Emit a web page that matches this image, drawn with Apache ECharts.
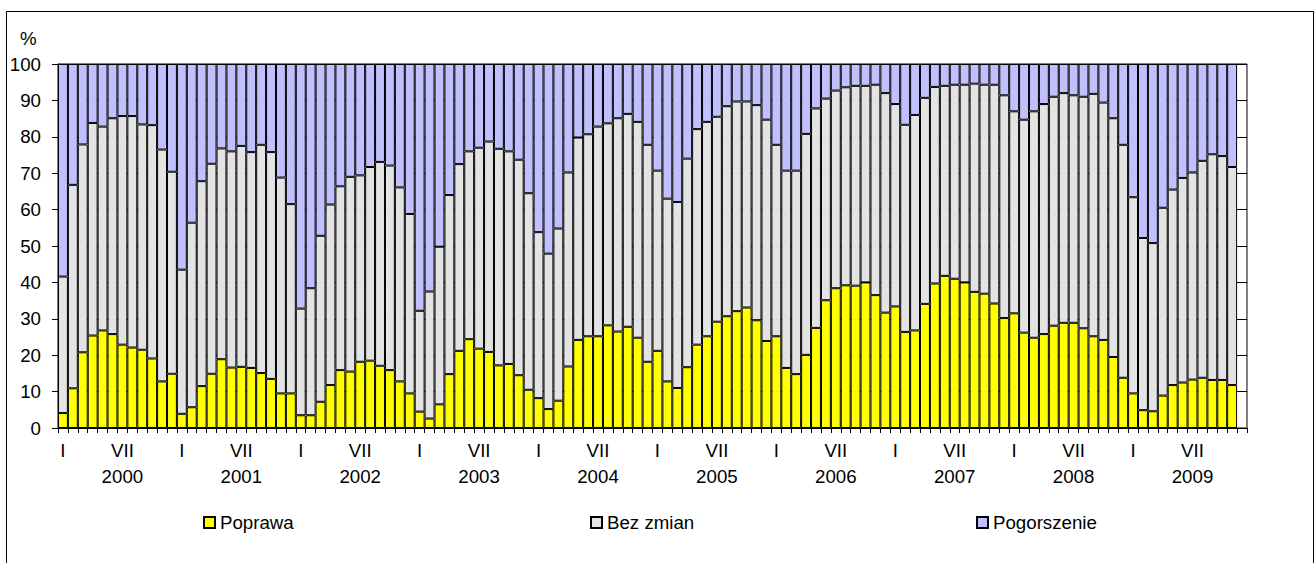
<!DOCTYPE html>
<html>
<head>
<meta charset="utf-8">
<title>Poprawa / Bez zmian / Pogorszenie</title>
<script src="https://cdn.jsdelivr.net/npm/echarts@6/dist/echarts.min.js"></script>
<style>
  html, body { margin: 0; padding: 0; background: #fff; }
  #chart { width: 1315px; height: 563px; }
</style>
</head>
<body>
<div id="chart"></div>
<script>
// lata i etykiety miesięcy (pokazujemy tylko I i VII)
var years = [2000, 2001, 2002, 2003, 2004, 2005, 2006, 2007, 2008, 2009];
var monthLabels = ['I', '', '', '', '', '', 'VII', '', '', '', '', ''];

// % (I 2000 - XI 2009)
var poprawa = [
  4.1, 10.9, 20.8, 25.4, 26.8, 25.8, 22.9, 22.1, 21.5, 19.1, 12.8, 14.9,
  3.9, 5.7, 11.5, 14.9, 18.9, 16.6, 16.8, 16.5, 15.1, 13.5, 9.5, 9.5,
  3.5, 3.5, 7.2, 11.8, 15.9, 15.5, 18.2, 18.5, 17.1, 15.9, 12.8, 9.5,
  4.5, 2.6, 6.5, 14.8, 21.2, 24.4, 21.8, 20.9, 17.2, 17.6, 14.5, 10.5,
  8.2, 5.2, 7.5, 16.9, 24.2, 25.2, 25.2, 28.2, 26.5, 27.8, 24.8, 18.2,
  21.2, 12.8, 11.0, 16.7, 22.9, 25.2, 29.2, 30.7, 32.1, 33.1, 29.6, 23.9,
  25.2, 16.5, 14.8, 20.1, 27.5, 35.1, 38.4, 39.2, 39.1, 40.0, 36.5, 31.7,
  33.4, 26.4, 26.8, 34.1, 39.7, 41.8, 41.0, 40.0, 37.4, 36.9, 34.2, 30.2,
  31.5, 26.2, 24.8, 25.8, 28.1, 28.9, 28.9, 27.4, 25.2, 24.2, 19.5, 13.8,
  9.5, 4.9, 4.6, 8.9, 11.8, 12.5, 13.3, 13.8, 13.2, 13.2, 11.8, null
];
var bezZmian = [
  37.5, 55.9, 57.1, 58.4, 56.0, 59.3, 62.8, 63.6, 61.9, 64.1, 63.7, 55.5,
  39.6, 50.7, 56.3, 57.7, 57.9, 59.4, 60.7, 59.3, 62.7, 62.3, 59.3, 52.0,
  29.3, 34.9, 45.6, 49.6, 50.5, 53.5, 51.2, 53.2, 56.0, 56.2, 53.3, 49.3,
  27.7, 34.9, 43.3, 49.2, 51.3, 51.6, 55.2, 57.8, 59.5, 58.4, 59.2, 54.0,
  45.6, 42.7, 47.3, 53.3, 55.6, 55.5, 57.6, 55.5, 58.6, 58.5, 59.3, 59.6,
  49.5, 50.2, 51.1, 57.3, 59.2, 58.9, 56.3, 57.7, 57.6, 56.6, 59.1, 60.8,
  52.6, 54.2, 55.9, 60.7, 60.3, 55.4, 54.3, 54.4, 54.9, 54.0, 57.8, 60.3,
  55.6, 56.9, 59.2, 56.6, 54.0, 52.2, 53.3, 54.3, 57.2, 57.4, 60.1, 61.2,
  55.5, 58.5, 62.2, 63.2, 62.9, 63.1, 62.5, 63.6, 66.6, 65.2, 65.6, 64.0,
  53.9, 47.3, 46.2, 51.6, 53.7, 56.2, 56.9, 59.6, 62.0, 61.5, 59.9, null
];
var pogorszenie = [
  58.4, 33.2, 22.1, 16.2, 17.2, 14.9, 14.3, 14.3, 16.6, 16.8, 23.5, 29.6,
  56.5, 43.6, 32.2, 27.4, 23.2, 24.0, 22.5, 24.2, 22.2, 24.2, 31.2, 38.5,
  67.2, 61.6, 47.2, 38.6, 33.6, 31.0, 30.6, 28.3, 26.9, 27.9, 33.9, 41.2,
  67.8, 62.5, 50.2, 36.0, 27.5, 24.0, 23.0, 21.3, 23.3, 24.0, 26.3, 35.5,
  46.2, 52.1, 45.2, 29.8, 20.2, 19.3, 17.2, 16.3, 14.9, 13.7, 15.9, 22.2,
  29.3, 37.0, 37.9, 26.0, 17.9, 15.9, 14.5, 11.6, 10.3, 10.3, 11.3, 15.3,
  22.2, 29.3, 29.3, 19.2, 12.2, 9.5, 7.3, 6.4, 6.0, 6.0, 5.7, 8.0,
  11.0, 16.7, 14.0, 9.3, 6.3, 6.0, 5.7, 5.7, 5.4, 5.7, 5.7, 8.6,
  13.0, 15.3, 13.0, 11.0, 9.0, 8.0, 8.6, 9.0, 8.2, 10.6, 14.9, 22.2,
  36.6, 47.8, 49.2, 39.5, 34.5, 31.3, 29.8, 26.6, 24.8, 25.3, 28.3, null
];

var FONT = '"Liberation Sans", Arial, sans-serif';
var FS = 18.7;

// kategorie: rok-miesiąc
var categories = [];
years.forEach(function (y) {
  monthLabels.forEach(function (m, i) {
    categories.push(y + '-' + (i + 1));
  });
});

function barSeries(name, data, color) {
  return {
    name: name,
    type: 'bar',
    stack: 'all',
    data: data,
    barCategoryGap: '0%',
    itemStyle: { color: color, borderColor: '#000', borderWidth: 1 },
    emphasis: { disabled: true },
    animation: false
  };
}

function legendAt(name, left) {
  return {
    data: [name],
    left: left,
    top: 512.5,
    padding: 0,
    icon: 'rect',
    itemWidth: 11,
    itemHeight: 11,
    selectedMode: false,
    textStyle: { fontFamily: FONT, fontSize: FS, color: '#000', lineHeight: 20 }
  };
}

var chart = echarts.init(document.getElementById('chart'), null, { renderer: 'svg' });
chart.setOption({
  backgroundColor: '#fff',
  animation: false,
  textStyle: { fontFamily: FONT },
  grid: {
    left: 58, right: 68, top: 64, bottom: 135,
    show: true, borderColor: '#000', borderWidth: 1, backgroundColor: '#fff'
  },
  legend: [
    legendAt('Poprawa', 203),
    legendAt('Bez zmian', 590),
    legendAt('Pogorszenie', 976)
  ],
  xAxis: {
    type: 'category',
    data: categories,
    boundaryGap: true,
    axisLine: { lineStyle: { color: '#000', width: 1 } },
    axisTick: { show: true, interval: 0, length: 5, lineStyle: { color: '#000' } },
    axisLabel: {
      interval: 0,
      margin: 9,
      color: '#000',
      fontFamily: FONT,
      fontSize: FS,
      lineHeight: 26,
      formatter: function (v, idx) {
        var m = idx % 12;
        var lab = monthLabels[m];
        if (m === 6) lab += '\n' + years[Math.floor(idx / 12)];
        return lab;
      }
    },
    splitLine: { show: false }
  },
  yAxis: {
    type: 'value',
    min: 0,
    max: 100,
    interval: 10,
    axisLine: { show: true, lineStyle: { color: '#000', width: 1 } },
    axisTick: { show: true, length: 6, lineStyle: { color: '#000' } },
    axisLabel: { margin: 17, color: '#000', fontFamily: FONT, fontSize: FS },
    splitLine: { show: true, lineStyle: { color: '#000', width: 1 } }
  },
  graphic: [
    {
      type: 'rect',
      silent: true,
      shape: { x: 6.5, y: 11.5, width: 1307, height: 560 },
      style: { fill: 'none', stroke: '#000', lineWidth: 1 }
    },
    {
      type: 'text',
      left: 20,
      top: 29,
      style: { text: '%', fontFamily: FONT, fontSize: FS, fill: '#000' }
    }
  ],
  series: [
    barSeries('Poprawa', poprawa, '#ffff00'),
    barSeries('Bez zmian', bezZmian, '#e3e3e3'),
    barSeries('Pogorszenie', pogorszenie, '#c0c0ff')
  ]
});
window.addEventListener('resize', function () {
  chart.resize();
});
</script>
</body>
</html>
